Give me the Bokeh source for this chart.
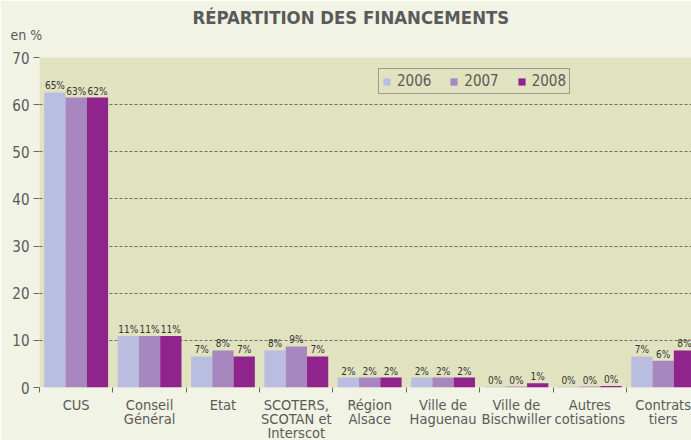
from bokeh.plotting import figure
from bokeh.models import ColumnDataSource, FixedTicker, Title, Range1d, Legend, LegendItem
from bokeh.embed import file_html
from bokeh.resources import INLINE

categories = ["CUS", "Conseil\nGénéral", "Etat", "SCOTERS,\nSCOTAN et\nInterscot", "Région\nAlsace",
              "Ville de\nHaguenau", "Ville de\nBischwiller", "Autres\ncotisations", "Contrats\ntiers"]
years = ["2006", "2007", "2008"]
v2006 = [62.6, 10.9, 6.6, 7.85, 2.1, 2.1, 0.15, 0.15, 6.6]
v2007 = [61.5, 10.9, 7.85, 8.7, 2.1, 2.1, 0.2, 0.2, 5.7]
v2008 = [61.5, 10.9, 6.6, 6.6, 2.1, 2.1, 0.9, 0.3, 7.85]
l2006 = ["65%", "11%", "7%", "8%", "2%", "2%", "0%", "0%", "7%"]
l2007 = ["63%", "11%", "8%", "9%", "2%", "2%", "0%", "0%", "6%"]
l2008 = ["62%", "11%", "7%", "7%", "2%", "2%", "1%", "0%", "8%"]
colors = ["#b9bde0", "#a886bf", "#8e248c"]

BG = "#f1f3e5"
PLOT_BG = "#e1e2bf"
TXT = "#5a5a5a"

p = figure(frame_width=652, frame_height=330, output_backend="svg", toolbar_location=None,
           x_range=Range1d(0, 8.886), y_range=Range1d(0, 70),
           min_border_left=39, min_border_right=0, min_border_top=57, min_border_bottom=0)
p.background_fill_color = PLOT_BG
p.border_fill_color = BG
p.outline_line_color = None

offsets = [-0.29, 0.0, 0.29]
renderers = []
for vals, labs, off, col in zip([v2006, v2007, v2008], [l2006, l2007, l2008], offsets, colors):
    xs = [i + 0.5 + off for i in range(len(categories))]
    src = ColumnDataSource(dict(x=xs, top=vals, lab=labs))
    r = p.vbar(x="x", top="top", width=0.29, bottom=0, source=src, fill_color=col, line_color=None)
    renderers.append(r)
    p.text(x="x", y="top", text="lab", source=src, text_align="center", text_baseline="bottom",
           y_offset=-1, text_font_size="10px", text_color="#333333",
           text_font={"value": "DejaVu Sans Condensed"})

legend = Legend(items=[LegendItem(label=y, renderers=[r]) for y, r in zip(years, renderers)],
                orientation="horizontal", location=(339, 293))
legend.label_text_font = "DejaVu Sans Condensed"
legend.label_text_font_size = "15px"
legend.label_text_color = TXT
legend.glyph_width = 9
legend.glyph_height = 9
legend.label_standoff = 6
legend.spacing = 18
legend.padding = 3
legend.margin = 0
legend.label_height = 16
legend.border_line_color = "#555555"
legend.border_line_width = 1
legend.background_fill_alpha = 0
p.add_layout(legend, "center")

# axes
xa = p.xaxis[0]
xa.ticker = FixedTicker(ticks=[i + 0.5 for i in range(len(categories))], minor_ticks=list(range(len(categories))))
xa.major_label_overrides = {i + 0.5: c for i, c in enumerate(categories)}
xa.major_tick_line_color = None
xa.major_tick_out = 0
xa.major_tick_in = 0
xa.minor_tick_out = 5
xa.minor_tick_in = 0
xa.minor_tick_line_color = "#666666"
xa.axis_line_color = None
xa.major_label_text_font = "DejaVu Sans Condensed"
xa.major_label_text_font_size = "14.5px"
xa.major_label_text_line_height = 0.9
xa.major_label_text_color = TXT
xa.major_label_standoff = 4

ya = p.yaxis[0]
ya.ticker = FixedTicker(ticks=list(range(0, 71, 10)))
ya.minor_tick_line_color = None
ya.major_tick_out = 6
ya.major_tick_in = 0
ya.major_tick_line_color = "#666666"
ya.axis_line_color = None
ya.major_label_text_font = "DejaVu Sans Condensed"
ya.major_label_text_font_size = "15px"
ya.major_label_text_color = TXT
ya.major_label_standoff = 4

p.xgrid.grid_line_color = None
p.ygrid.grid_line_color = "#6e6e6e"
p.ygrid.grid_line_dash = "3 2"
p.ygrid.grid_line_width = 1

# title and unit
p.title.text = "RÉPARTITION DES FINANCEMENTS"
p.title.align = "left"
p.title.offset = 153
p.title.standoff = -34
p.title.text_font = "DejaVu Sans Condensed"
p.title.text_font_style = "bold"
p.title.text_font_size = "18.4px"
p.title.text_color = TXT
p.add_layout(Title(text="en %", align="left", offset=-29, standoff=29, text_font="DejaVu Sans Condensed",
                   text_font_style="normal", text_font_size="14px", text_color=TXT), "above")

open("out.html", "w").write(file_html(p, INLINE))
